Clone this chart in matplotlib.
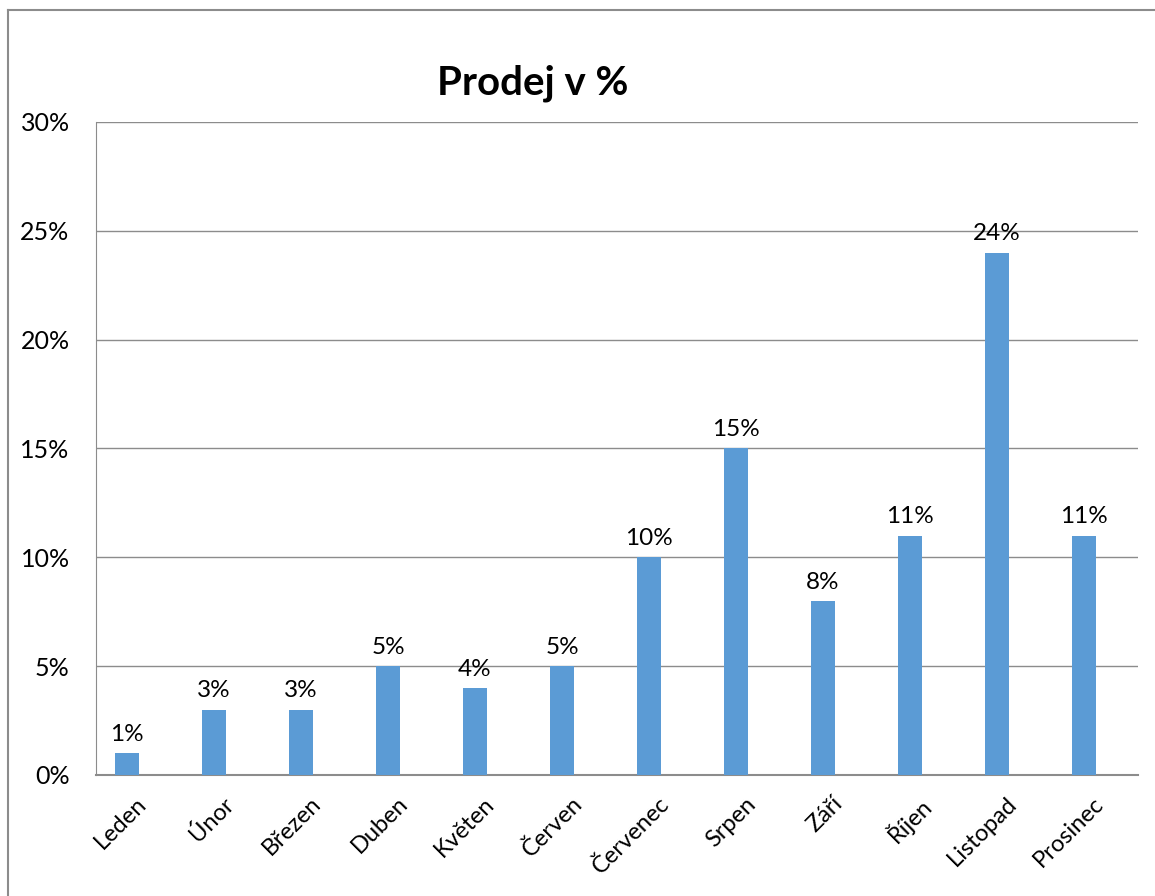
import numpy as np
from matplotlib import pyplot as plt
from matplotlib.lines import Line2D
import matplotlib.transforms as mtransforms

months = ["Leden", "Únor", "Březen", "Duben", "Květen", "Červen",
          "Červenec", "Srpen", "Září", "Říjen", "Listopad", "Prosinec"]
sales_pct = [1, 3, 3, 5, 4, 5, 10, 15, 8, 11, 24, 11]
y_ticks = [0, 5, 10, 15, 20, 25, 30]

plt.rcParams['font.family'] = ['Lato', 'DejaVu Sans']

W, H = 1155, 896
fig = plt.figure(figsize=(W / 100, H / 100), dpi=100)
ax = fig.add_axes([96 / W, 1 - 775 / H, (1138 - 96) / W, (775 - 122) / H])

# chart area border (only top & left visible in the crop)
fig.add_artist(Line2D([7.5 / W, 7.5 / W], [0, 1 - 10 / H], color='#8c8c8c', lw=1.5))
fig.add_artist(Line2D([7.5 / W, 1], [1 - 10 / H, 1 - 10 / H], color='#8c8c8c', lw=1.5))

x = np.arange(len(months))
bars = ax.bar(x, sales_pct, width=0.276, color='#5b9bd5', zorder=3)

for b, v in zip(bars, sales_pct):
    ax.annotate(f"{v}%", (b.get_x() + b.get_width() / 2, v),
                xytext=(0, 6), textcoords='offset points',
                ha='center', va='bottom', fontsize=17.5, color='black')

ax.set_xlim(-0.356, 11.62)
ax.set_ylim(0, 30)
ax.set_yticks(y_ticks)
ax.set_yticklabels([f"{t}%" for t in y_ticks], fontsize=18)
ax.set_xticks(x)
ax.set_xticklabels(months, rotation=45, ha='right', rotation_mode='anchor', fontsize=17)
ax.tick_params(length=0)
ax.tick_params(axis='y', pad=19)
ax.tick_params(axis='x', pad=13)

# nudge month labels a bit to the right like in Excel
shift = mtransforms.ScaledTranslation(9 / 100, 0, fig.dpi_scale_trans)
for lbl in ax.get_xticklabels():
    lbl.set_transform(lbl.get_transform() + shift)

ax.yaxis.grid(True, color='#8c8c8c', lw=1, zorder=0)
for s in ['top', 'right']:
    ax.spines[s].set_visible(False)
ax.spines['left'].set_color('#8c8c8c')
ax.spines['bottom'].set_color('#8c8c8c')
ax.spines['bottom'].set_linewidth(1.5)

fig.text(533 / W, 1 - 83 / H, "Prodej v %", ha='center', va='center',
         fontsize=29, fontweight='bold')

plt.savefig("out.png", dpi=100)
